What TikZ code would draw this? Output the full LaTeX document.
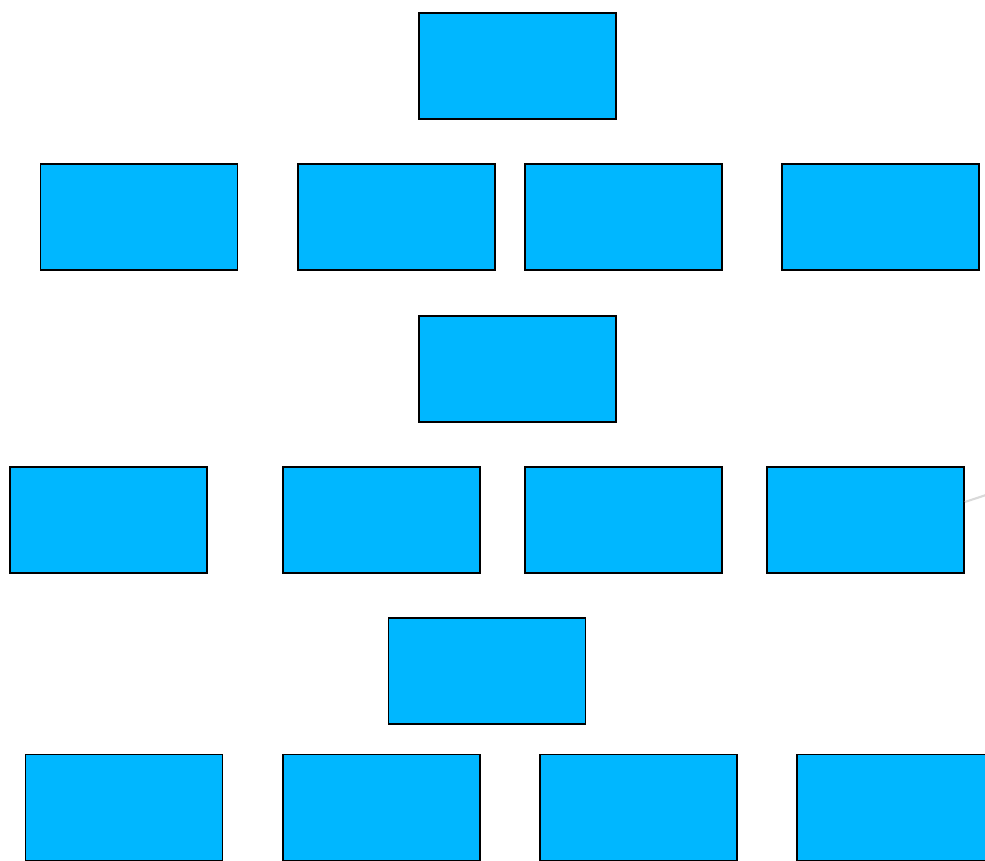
\documentclass[tikz,border=0pt]{standalone}
\usepackage{tikz}
\usetikzlibrary{positioning,calc}
\definecolor{boxblue}{RGB}{0,183,255}
\tikzset{
  chartbox/.style={draw=black, fill=boxblue, line width=1pt, inner sep=0pt,
    minimum width=3.94cm, minimum height=2.12cm},
  faintlink/.style={draw=gray!30, line width=1.2pt}
}
\begin{document}
\begin{tikzpicture}[x=0.02cm, y=-0.02cm]
  % canvas
  \useasboundingbox (0,0) rectangle (985,861);
  \clip (0,0) rectangle (985,861);

  % --- Top box ---
  \node[chartbox] (top) at (517.5,66) {};

  % --- Second row ---
  \foreach \px [count=\i] in {139,396.5,623.5,880.5}
    \node[chartbox] (ra\i) at (\px,217) {};

  % --- Middle box ---
  \node[chartbox] (mid) at (517.5,369) {};

  % --- Fourth row ---
  \foreach \px [count=\i] in {108.5,381.5,623.5,865.5}
    \node[chartbox] (rb\i) at (\px,520) {};

  % --- Lower box ---
  \node[chartbox] (low) at (487,671) {};

  % --- Bottom row ---
  \foreach \px [count=\i] in {124,381.5,638.5,895.5}
    \node[chartbox] (rc\i) at (\px,807.5) {};

  % faint connector leaving the right edge
  \coordinate (tail) at (992,493);
  \draw[faintlink] ([yshift=0.36cm]rb4.east) -- (tail);
\end{tikzpicture}
\end{document}
